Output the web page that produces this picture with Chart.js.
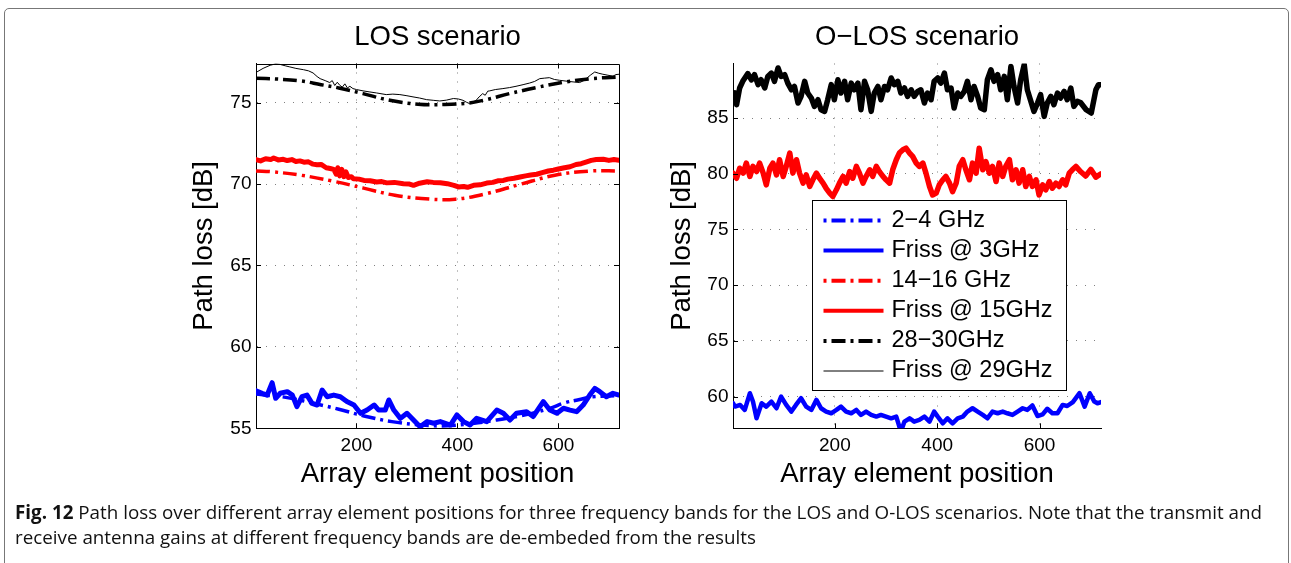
<!DOCTYPE html>
<html>
<head>
<meta charset="utf-8">
<script src="https://cdn.jsdelivr.net/npm/chart.js@4.4.0/dist/chart.umd.min.js"></script>
<style>
body{margin:0;width:1291px;height:563px;background:#fff;position:relative;overflow:hidden;}
#frame{position:absolute;left:4px;top:8px;width:1285px;height:570px;border:1.5px solid #777;border-radius:5px;box-sizing:border-box;}
canvas{position:absolute;top:15px;}
#los{left:160px;}
#olos{left:660px;}
#caption{position:absolute;left:15px;top:500px;font-family:"Open Sans";font-size:19px;color:#111;line-height:25px;white-space:nowrap;}
#caption span{display:inline-block;transform-origin:0 0;}
</style>
</head>
<body>
<div id="frame"></div>
<canvas id="los" width="555" height="490"></canvas>
<canvas id="olos" width="514" height="490"></canvas>
<div id="caption"><span id="cap1"><b>Fig. 12</b> Path loss over different array element positions for three frequency bands for the LOS and O-LOS scenarios. Note that the transmit and</span><br><span id="cap2">receive antenna gains at different frequency bands are de-embeded from the results</span></div>
<script>
// tick positions
const xTicks = [200, 400, 600];
const yTicksLos = [55, 60, 65, 70, 75];
const yTicksOlos = [60, 65, 70, 75, 80, 85];
const legendLabels = ['2\u22124 GHz', 'Friss @ 3GHz', '14\u221216 GHz', 'Friss @ 15GHz', '28\u221230GHz', 'Friss @ 29GHz'];

// LOS, [array element, path loss dB]
const losBand3 = [[1,57.1],[60,56.9],[120,56.5],[165,56.17],[215,55.76],[270,55.41],[330,55.2],[380,55.15],[430,55.3],[465,55.45],[530,55.8],[580,56.2],[613,56.57],[640,56.75],[668,56.94],[720,57.0]];
const losFriss3 = [[1,57.31],[13,57.15],[23,57.04],[33,57.8],[40,56.84],[49,57.15],[63,57.25],[73,57.04],[82,56.33],[92,56.94],[102,57.04],[112,56.53],[122,56.43],[132,57.35],[142,56.94],[155,57.04],[168,56.94],[181,56.64],[195,56.43],[208,55.92],[221,56.12],[235,56.43],[244,56.12],[257,56.12],[264,56.74],[274,56.12],[287,55.61],[300,55.92],[313,55.51],[326,55.1],[340,55.41],[353,55.31],[366,55.41],[386,55.2],[399,55.82],[412,55.41],[425,55.2],[438,55.61],[458,55.41],[478,56.12],[491,55.92],[504,55.51],[517,55.92],[537,56.02],[550,55.72],[570,56.64],[583,56.12],[597,55.92],[610,56.23],[623,56.12],[636,56.02],[649,56.43],[662,57.04],[672,57.45],[682,57.25],[695,56.94],[708,57.15],[720,57.04]];
const losBand15 = [[1,70.8],[33,70.75],[90,70.54],[150,70.2],[214,69.75],[276,69.31],[346,69.07],[396,69.07],[452,69.37],[523,69.97],[593,70.54],[664,70.8],[720,70.8]];
const losFriss15 = [[1,71.5],[10,71.42],[20,71.55],[30,71.5],[36,71.6],[45,71.48],[55,71.52],[63,71.44],[72,71.5],[80,71.38],[88,71.42],[96,71.34],[105,71.36],[114,71.22],[122,71.18],[130,71.2],[140,71.0],[148,70.95],[155,70.9],[160,70.6],[163,71.0],[167,70.5],[171,70.9],[175,70.45],[179,70.75],[184,70.4],[190,70.45],[194,70.32],[205,70.3],[215,70.22],[227,70.2],[240,70.12],[250,70.15],[260,70.07],[275,70.1],[293,70.02],[305,70.0],[313,69.92],[325,70.05],[340,70.14],[352,70.1],[366,70.08],[380,70.02],[393,69.92],[402,69.82],[412,69.85],[420,69.8],[432,69.92],[445,69.95],[458,70.06],[470,70.1],[480,70.2],[491,70.22],[500,70.3],[512,70.35],[524,70.43],[535,70.5],[545,70.55],[557,70.6],[568,70.7],[580,70.8],[590,70.85],[600,70.92],[612,71.0],[623,71.06],[635,71.2],[645,71.25],[656,71.36],[665,71.45],[675,71.5],[689,71.52],[700,71.45],[710,71.5],[720,71.46]];
const losBand29 = [[1,76.5],[40,76.45],[90,76.33],[130,76.1],[165,75.9],[213,75.55],[266,75.14],[322,74.9],[375,74.88],[424,74.98],[457,75.18],[503,75.55],[556,75.92],[615,76.27],[665,76.47],[720,76.57]];
const losFriss29 = [[1,76.85],[15,77.1],[29,77.29],[40,77.38],[48,77.35],[60,77.25],[68,77.19],[80,77.1],[95,77.02],[105,76.95],[114,76.82],[122,76.6],[128,76.47],[138,76.35],[147,76.23],[152,76.35],[157,76.05],[162,76.25],[167,76.06],[172,75.95],[177,76.15],[182,75.9],[187,76.0],[193,75.86],[200,75.8],[213,75.72],[225,75.66],[240,75.59],[259,75.49],[272,75.52],[286,75.49],[300,75.42],[312,75.35],[325,75.28],[339,75.18],[352,75.14],[365,75.1],[378,75.15],[392,75.25],[402,75.22],[411,75.14],[418,75.02],[424,74.94],[430,75.02],[437,75.14],[443,75.35],[450,75.55],[455,75.45],[460,75.7],[464,75.72],[475,75.8],[490,75.86],[503,75.92],[516,76.0],[530,76.1],[543,76.2],[553,76.3],[563,76.47],[572,76.5],[582,76.53],[592,76.42],[602,76.37],[615,76.32],[629,76.27],[642,76.23],[650,76.35],[655,76.47],[664,76.7],[672,76.88],[680,76.8],[688,76.74],[698,76.68],[708,76.62],[714,76.72],[720,76.74]];

// O-LOS
const olosBand3 = [[1,59.4],[5,59.1],[15,59.25],[24,58.8],[34,60.3],[40,59.55],[47,58.05],[57,59.4],[66,59.1],[76,59.55],[86,58.95],[95,60.0],[105,59.25],[115,58.65],[124,59.25],[134,59.85],[144,59.1],[154,58.8],[164,59.7],[173,58.95],[183,58.65],[193,58.5],[203,58.8],[212,59.1],[222,58.65],[232,58.5],[242,58.8],[251,58.35],[261,58.65],[271,58.35],[281,58.2],[290,58.35],[300,58.2],[310,58.05],[320,58.2],[329,56.85],[336,57.75],[346,58.05],[355,57.75],[365,57.9],[375,58.2],[385,57.75],[394,58.65],[401,58.2],[411,57.6],[420,58.05],[430,57.6],[440,58.05],[450,58.2],[459,58.65],[469,58.95],[479,58.65],[489,58.35],[498,58.05],[508,58.65],[518,58.5],[528,58.65],[537,58.5],[547,58.35],[557,58.65],[567,58.95],[576,58.8],[586,59.2],[596,58.25],[606,58.4],[615,58.9],[625,58.5],[635,58.5],[645,59.25],[654,59.15],[665,59.5],[678,60.3],[688,59.1],[698,60.3],[707,59.55],[713,59.4],[720,59.5]];
const olosBand15 = [[1,80.06],[8,79.6],[14,80.5],[21,80.06],[27,80.96],[34,79.76],[40,80.66],[47,80.2],[53,80.96],[60,80.06],[66,79.0],[73,80.5],[79,80.96],[86,79.9],[92,81.26],[99,79.76],[105,80.66],[112,81.86],[118,80.06],[125,81.26],[131,80.06],[138,79.16],[144,79.9],[151,78.86],[157,79.46],[164,80.06],[170,79.6],[177,79.16],[183,78.7],[190,78.26],[196,77.96],[203,78.56],[209,79.16],[216,79.76],[222,79.16],[229,80.2],[235,79.6],[242,80.66],[248,80.06],[255,79.16],[261,79.76],[268,80.36],[274,79.76],[281,80.66],[287,80.2],[294,79.76],[300,79.46],[307,79.16],[313,80.36],[320,81.26],[326,81.86],[333,82.16],[339,82.3],[346,81.86],[352,81.56],[359,80.96],[365,80.66],[372,80.96],[378,80.06],[385,78.86],[391,78.1],[398,78.26],[404,79.0],[411,79.46],[417,79.76],[424,79.16],[430,78.4],[437,79.16],[443,80.66],[450,81.26],[456,80.36],[463,79.46],[469,80.96],[476,80.06],[482,82.3],[489,80.36],[495,81.1],[502,80.06],[508,80.66],[515,79.3],[521,80.96],[528,79.76],[534,80.66],[541,81.26],[547,79.46],[554,80.36],[560,79.16],[567,80.36],[573,78.86],[580,79.76],[586,78.86],[593,79.46],[599,78.1],[606,79.0],[612,78.56],[619,79.3],[625,78.7],[632,79.16],[638,78.86],[645,79.46],[651,79.0],[658,80.06],[664,80.36],[671,80.66],[680,80.2],[690,79.8],[700,80.4],[710,79.7],[720,80.0]];
const olosBand29 = [[1,87.0],[5,87.25],[8,86.2],[14,87.7],[20,88.3],[30,89.0],[37,88.44],[43,88.9],[50,88.0],[56,88.44],[63,87.7],[69,88.74],[76,89.04],[82,88.3],[89,89.5],[95,88.74],[102,88.9],[108,88.14],[115,87.54],[121,87.84],[128,86.35],[134,86.95],[141,88.3],[147,87.25],[154,86.8],[160,86.05],[167,86.65],[173,85.75],[180,85.6],[186,86.65],[193,88.0],[199,86.65],[206,88.44],[212,87.25],[219,88.3],[225,86.65],[232,88.14],[238,87.54],[245,88.14],[251,85.75],[258,88.3],[264,87.54],[271,85.6],[277,87.25],[284,87.84],[290,86.65],[297,87.84],[303,87.54],[310,88.6],[316,88.0],[323,88.3],[329,87.25],[336,87.7],[342,86.95],[349,87.54],[355,86.95],[362,87.4],[368,87.54],[375,86.35],[381,87.25],[388,86.65],[394,88.3],[401,88.6],[407,88.14],[414,89.04],[420,87.54],[427,87.7],[433,85.9],[440,87.25],[446,86.95],[453,87.4],[459,88.3],[466,86.65],[472,87.84],[479,86.95],[485,85.9],[492,85.75],[498,88.44],[505,89.34],[511,88.3],[518,88.9],[524,87.54],[531,88.74],[537,86.65],[544,89.64],[550,87.84],[557,86.35],[563,88.44],[570,89.8],[576,87.54],[583,86.5],[589,85.6],[596,86.35],[602,87.1],[609,85.15],[615,86.35],[622,86.95],[628,86.2],[635,87.25],[641,86.8],[648,87.4],[654,86.65],[661,87.7],[667,86.05],[674,86.5],[680,86.4],[691,85.75],[701,85.45],[710,87.54],[715,88.0],[720,88.0]];

const FONT = 'Liberation Sans, Arial, sans-serif';
const tickFont = {family: FONT, size: 19};
const titleFont = {family: FONT, size: 27.5, weight: 'normal'};
const DASH = [14, 5, 3, 5];

const line = (label, pairs, color, width, dash, tension) => ({
    label: label,
    data: pairs.map(p => ({x: p[0], y: p[1]})),
    borderColor: color,
    borderWidth: width,
    borderDash: dash || [],
    tension: tension || 0,
    pointRadius: 0,
    fill: false,
    borderJoinStyle: 'round',
    borderCapStyle: dash ? 'butt' : 'round'
});

// matlab style box + inward ticks
const axisBox = {
    id: 'axisBox',
    afterDraw(chart, args, o) {
        const {ctx, chartArea: a, scales: {x, y}} = chart;
        const al = v => Math.round(v) + 0.5;
        ctx.save();
        ctx.strokeStyle = '#000';
        ctx.lineWidth = 1;
        ctx.beginPath();
        if (o.full) {
            ctx.moveTo(al(a.left), al(a.top)); ctx.lineTo(al(a.right), al(a.top));
            ctx.lineTo(al(a.right), al(a.bottom));
        }
        x.ticks.forEach(t => {
            const px = al(x.getPixelForValue(t.value));
            ctx.moveTo(px, a.bottom); ctx.lineTo(px, a.bottom - 5);
            if (o.full) { ctx.moveTo(px, a.top); ctx.lineTo(px, a.top + 5); }
        });
        y.ticks.forEach(t => {
            const py = al(y.getPixelForValue(t.value));
            ctx.moveTo(a.left, py); ctx.lineTo(a.left + 5, py);
            if (o.full) { ctx.moveTo(a.right, py); ctx.lineTo(a.right - 5, py); }
        });
        ctx.stroke();
        ctx.restore();
    }
};

const boxLegend = {
    id: 'boxLegend',
    afterDraw(chart, args, o) {
        if (!o.items) return;
        const {ctx, chartArea: a} = chart;
        const bx = Math.round(a.left + 78.7) + 0.5, by = Math.round(a.top + 136.8) + 0.5;
        ctx.save();
        ctx.fillStyle = '#fff';
        ctx.fillRect(bx, by, 254, 190);
        ctx.strokeStyle = '#000';
        ctx.lineWidth = 1;
        ctx.strokeRect(bx, by, 254, 190);
        ctx.font = '23.5px ' + FONT;
        ctx.textBaseline = 'middle';
        o.items.forEach((it, i) => {
            const cy = by + 20 + i * 30.1;
            ctx.strokeStyle = it.color;
            ctx.lineWidth = it.width;
            ctx.setLineDash(it.dash || []);
            ctx.lineDashOffset = 19;
            ctx.beginPath();
            ctx.moveTo(bx + 11, cy); ctx.lineTo(bx + 71, cy);
            ctx.stroke();
            ctx.setLineDash([]);
            ctx.fillStyle = '#000';
            ctx.fillText(it.text, bx + 79, cy);
        });
        ctx.restore();
    }
};

function scales(yMin, yMax, yTicks, yW, yTitleTop) {
    return {
        x: {
            type: 'linear', min: 1, max: 720,
            afterBuildTicks: s => { s.ticks = xTicks.map(v => ({value: v})); },
            afterFit: s => { s.height = 70; },
            ticks: {font: tickFont, color: '#000', padding: 6, autoSkip: false, maxRotation: 0},
            grid: {color: '#808080', drawTicks: false},
            border: {color: '#000', width: 1, dash: [1, 8]},
            title: {display: true, text: 'Array element position', font: titleFont, color: '#000', padding: {top: 0, bottom: 7.8}}
        },
        y: {
            type: 'linear', min: yMin, max: yMax,
            afterBuildTicks: s => { s.ticks = yTicks.map(v => ({value: v})); },
            afterFit: s => { s.width = yW; },
            ticks: {font: tickFont, color: '#000', padding: 4.5, autoSkip: false},
            grid: {color: '#808080', drawTicks: false},
            border: {color: '#000', width: 1, dash: [1, 8]},
            title: {display: true, text: 'Path loss [dB]', font: titleFont, color: '#000', padding: {top: yTitleTop, bottom: 0}}
        }
    };
}

const common = (title, pad) => ({
    responsive: false,
    animation: false,
    events: [],
    layout: {padding: pad},
    plugins: {
        legend: {display: false},
        tooltip: {enabled: false},
        title: {display: true, fullSize: false, text: title, font: titleFont, color: '#000', padding: {top: 6, bottom: 9.5}}
    }
});

const losSets = [
    line(legendLabels[0], losBand3, '#0000ff', 3.5, DASH, 0.4),
    line(legendLabels[1], losFriss3, '#0000ff', 5),
    line(legendLabels[2], losBand15, '#ff0000', 3.5, DASH, 0.4),
    line(legendLabels[3], losFriss15, '#ff0000', 5),
    line(legendLabels[4], losBand29, '#000000', 3.5, DASH, 0.4),
    line(legendLabels[5], losFriss29, '#000000', 1)
];

const losOpts = common('LOS scenario', {left: 0, right: 96, top: 0, bottom: 6.7});
losOpts.scales = scales(55, 77.4, yTicksLos, 96, 27.5);
losOpts.plugins.axisBox = {full: true};
new Chart(document.getElementById('los'), {type: 'line', data: {datasets: losSets}, options: losOpts, plugins: [axisBox]});

const olosOpts = common('O\u2212LOS scenario', {left: 0, right: 73, top: 0, bottom: 6.7});
olosOpts.scales = scales(57.15, 89.9, yTicksOlos, 73, 6);
olosOpts.plugins.axisBox = {full: false};
olosOpts.plugins.boxLegend = {
    items: losSets.map(d => ({text: d.label, color: d.borderColor, width: d.borderWidth === 1 ? 1 : 4, dash: d.borderDash.length ? DASH : null}))
};
new Chart(document.getElementById('olos'), {
    type: 'line',
    data: {datasets: [
        line(legendLabels[0], olosBand3, '#0000ff', 4.5),
        line(legendLabels[2], olosBand15, '#ff0000', 5.5),
        line(legendLabels[4], olosBand29, '#000000', 5.5)
    ]},
    options: olosOpts,
    plugins: [axisBox, boxLegend]
});

// squeeze caption to the width of the original
const c1 = document.getElementById('cap1'), c2 = document.getElementById('cap2');
const k = 1247 / c1.getBoundingClientRect().width;
c1.style.transform = c2.style.transform = 'scaleX(' + k + ')';
</script>
</body>
</html>
